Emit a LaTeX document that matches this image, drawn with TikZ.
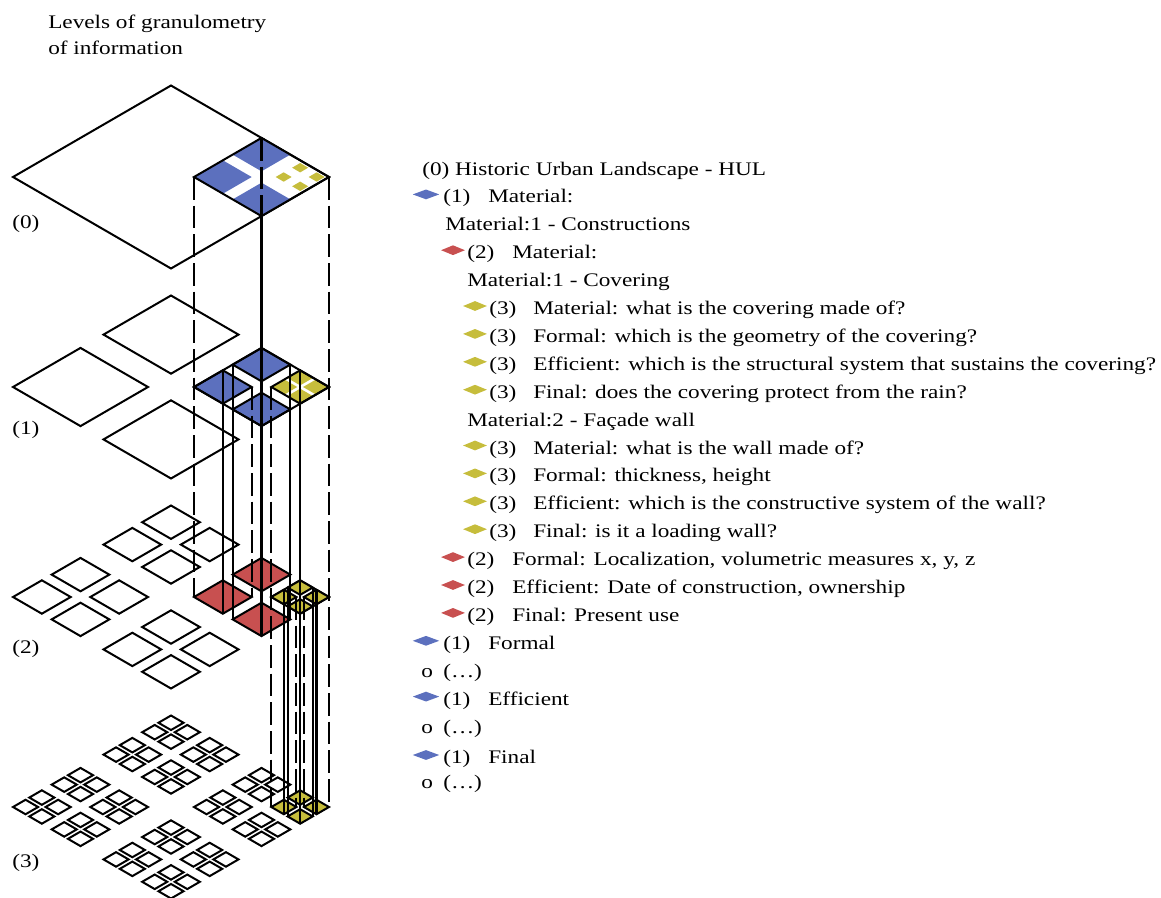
\documentclass[tikz,border=0pt]{standalone}
\usepackage{fontspec}
\setmainfont{Liberation Serif}[FakeStretch=1.21]
\usetikzlibrary{shapes.geometric}

\definecolor{hulblue}{RGB}{92,112,190}
\definecolor{hulred}{RGB}{200,80,80}
\definecolor{hulyellow}{RGB}{198,189,60}

% rhombus with centre (#2,#3), half width #4, half height #5
\newcommand\hulrhomb[5][]{%
  \pgfmathsetmacro\rhL{#2-#4}\pgfmathsetmacro\rhR{#2+#4}%
  \pgfmathsetmacro\rhT{#3-#5}\pgfmathsetmacro\rhB{#3+#5}%
  \path[#1] (\rhL,#3) -- (#2,\rhT) -- (\rhR,#3) -- (#2,\rhB) -- cycle;}

% list rows: name, baseline, text
\newcommand\rowone[3]{%
  \node[listdot,fill=hulblue,minimum width=20pt] (#1d) at (426,#2-8.5) {};
  \node[txt] (#1n) at (443,#2) {(1)};
  \node[txt] (#1t) at (488,#2) {#3};}
\newcommand\rowtwo[3]{%
  \node[listdot,fill=hulred] (#1d) at (453,#2-8.5) {};
  \node[txt] (#1n) at (467,#2) {(2)};
  \node[txt] (#1t) at (512,#2) {#3};}
\newcommand\rowthree[3]{%
  \node[listdot,fill=hulyellow] (#1d) at (475,#2-8.5) {};
  \node[txt] (#1n) at (489,#2) {(3)};
  \node[txt] (#1t) at (533,#2) {#3};}
\newcommand\rowetc[2]{%
  \node[txt] (#1o) at (421,#2) {o};
  \node[txt] (#1t) at (443,#2) {(\char"2026)};}

\begin{document}
\begin{tikzpicture}[x=0.75pt,y=-0.75pt,
  plate/.style={draw=black,line width=1.5pt,line join=miter},
  riser/.style={draw=black,line width=1.6pt},
  hiddenriser/.style={draw=black,line width=1.6pt,dash pattern=on 17pt off 4.5pt},
  txt/.style={anchor=base west,inner sep=0pt,font=\fontsize{14.4pt}{18pt}\selectfont},
  listdot/.style={shape=diamond,draw=none,inner sep=0pt,minimum width=18pt,minimum height=7.5pt}]

\path[use as bounding box] (0,0) rectangle (1161,897);

% ---------- headings ----------
\node[txt] (title1) at (48,28.5) {Levels of granulometry};
\node[txt] (title2) at (48,54.5) {of information};
\node[txt] (lab0) at (12,228) {(0)};
\node[txt] (lab1) at (12,434) {(1)};
\node[txt] (lab2) at (12,653) {(2)};
\node[txt] (lab3) at (12,867) {(3)};

% ---------- level 0 ----------
\hulrhomb[plate]{171}{177}{158}{91.5}
\foreach \k/\l in {0/-1,-1/0,0/1}{
  \pgfmathsetmacro\cx{261.5+\k*38.66}\pgfmathsetmacro\cy{177+\l*22.39}
  \hulrhomb[fill=hulblue]{\cx}{\cy}{28.835}{16.699}}
\foreach \m/\n in {0/-1,-1/0,0/1,1/0}{
  \pgfmathsetmacro\cx{300.16+\m*16.5}\pgfmathsetmacro\cy{177+\n*9.3}
  \hulrhomb[fill=hulyellow]{\cx}{\cy}{8}{4.7}}
\hulrhomb[plate]{261.5}{177}{67.4976}{39.0888}

% ---------- level 1 ----------
\foreach \i/\j in {0/-1,-1/0,0/1}{
  \pgfmathsetmacro\cx{171+\i*90.5}\pgfmathsetmacro\cy{387+\j*52.41}
  \hulrhomb[plate]{\cx}{\cy}{67.4976}{39.0888}}
\foreach \k/\l in {0/-1,-1/0,0/1}{
  \pgfmathsetmacro\cx{261.5+\k*38.66}\pgfmathsetmacro\cy{387+\l*22.39}
  \hulrhomb[plate,fill=hulblue]{\cx}{\cy}{28.835}{16.699}}
\foreach \m/\n in {0/-1,-1/0,0/1,1/0}{
  \pgfmathsetmacro\cx{300.16+\m*15.86}\pgfmathsetmacro\cy{387+\n*9.18}
  \hulrhomb[fill=hulyellow]{\cx}{\cy}{12.976}{7.515}}
\hulrhomb[plate]{300.16}{387}{28.835}{16.699}
\hulrhomb[plate]{261.5}{387}{67.4976}{39.0888}

% ---------- level 2 ----------
\foreach \i/\j in {0/-1,-1/0,0/1}{
  \foreach \k/\l in {0/-1,-1/0,0/1,1/0}{
    \pgfmathsetmacro\cx{171+\i*90.5+\k*38.66}\pgfmathsetmacro\cy{597+\j*52.41+\l*22.39}
    \hulrhomb[plate]{\cx}{\cy}{28.835}{16.699}}}
\foreach \k/\l in {0/-1,-1/0,0/1}{
  \pgfmathsetmacro\cx{261.5+\k*38.66}\pgfmathsetmacro\cy{597+\l*22.39}
  \hulrhomb[plate,fill=hulred]{\cx}{\cy}{28.835}{16.699}}
\hulrhomb[plate]{300.16}{597}{28.835}{16.699}
\foreach \m/\n in {0/-1,-1/0,0/1,1/0}{
  \pgfmathsetmacro\cx{300.16+\m*16.29}\pgfmathsetmacro\cy{597+\n*9.435}
  \hulrhomb[plate,fill=hulyellow]{\cx}{\cy}{12.543}{7.264}}

% ---------- level 3 ----------
\foreach \i/\j in {0/-1,-1/0,0/1}{
  \foreach \k/\l in {0/-1,-1/0,0/1,1/0}{
    \foreach \m/\n in {0/-1,-1/0,0/1,1/0}{
      \pgfmathsetmacro\cx{171+\i*90.5+\k*38.66+\m*16.29}
      \pgfmathsetmacro\cy{807+\j*52.41+\l*22.39+\n*9.435}
      \hulrhomb[plate]{\cx}{\cy}{12.543}{7.264}}}}
\foreach \k/\l in {0/-1,-1/0,0/1}{
  \foreach \m/\n in {0/-1,-1/0,0/1,1/0}{
    \pgfmathsetmacro\cx{261.5+\k*38.66+\m*16.29}
    \pgfmathsetmacro\cy{807+\l*22.39+\n*9.435}
    \hulrhomb[plate]{\cx}{\cy}{12.543}{7.264}}}
\foreach \m/\n in {0/-1,-1/0,0/1,1/0}{
  \pgfmathsetmacro\cx{300.16+\m*16.29}\pgfmathsetmacro\cy{807+\n*9.435}
  \hulrhomb[plate,fill=hulyellow]{\cx}{\cy}{12.543}{7.264}}

% ---------- vertical risers between levels ----------
\coordinate (aL0) at (194,177);      \coordinate (aL2) at (194,597);
\coordinate (aR0) at (329,177);      \coordinate (aR3) at (329,807);
\coordinate (aT0) at (261.5,137.91); \coordinate (aB0) at (261.5,216.09);
\coordinate (bcB2) at (261.5,636.09);
\coordinate (lcT1) at (222.84,370.30); \coordinate (lcB2) at (222.84,613.70);
\coordinate (tcL1) at (232.665,364.61); \coordinate (bcL2) at (232.665,619.39);
\coordinate (lcR1) at (251.675,387);    \coordinate (lcR2) at (251.675,597);
\coordinate (tcR1) at (290.335,364.61); \coordinate (bcR2) at (290.335,619.39);
\coordinate (rcL1) at (271.325,387);    \coordinate (rcL3) at (271.325,807);
\coordinate (rcT1) at (300.16,370.30);  \coordinate (rcB3) at (300.16,823.70);
\coordinate (lgT2) at (283.87,589.736); \coordinate (lgB3) at (283.87,814.264);
\coordinate (tgL2) at (287.617,587.565); \coordinate (bgL3) at (287.617,816.435);
\coordinate (lgR2) at (296.41,597);     \coordinate (lgR3) at (296.41,807);
\coordinate (rgL2) at (303.907,597);    \coordinate (rgL3) at (303.907,807);
\coordinate (tgR2) at (312.703,587.565); \coordinate (bgR3) at (312.703,816.435);
\coordinate (rgT2) at (316.45,589.736); \coordinate (rgB3) at (316.45,814.264);

\draw[hiddenriser] (aL0) -- (aL2);
\draw[hiddenriser] (aR0) -- (aR3);
\draw[hiddenriser] (aT0) -- (aB0);
\draw[riser] (aB0) -- (bcB2);
\draw[riser] (lcT1) -- (lcB2);
\draw[riser] (tcL1) -- (bcL2);
\draw[hiddenriser] (lcR1) -- (lcR2);
\draw[riser] (tcR1) -- (bcR2);
\draw[hiddenriser] (rcL1) -- (rcL3);
\draw[riser] (rcT1) -- (rcB3);
\draw[riser] (lgT2) -- (lgB3);
\draw[riser] (tgL2) -- (bgL3);
\draw[hiddenriser] (lgR2) -- (lgR3);
\draw[hiddenriser] (rgL2) -- (rgL3);
\draw[riser] (tgR2) -- (bgR3);
\draw[riser] (rgT2) -- (rgB3);

% ---------- hierarchy list ----------
\node[txt] (hul) at (422,175) {(0) Historic Urban Landscape - HUL};
\rowone{ma}{202.9}{Material:}
\node[txt] (mac) at (445,230.8) {Material:1 - Constructions};
\rowtwo{mb}{258.7}{Material:}
\node[txt] (mbc) at (467,286.6) {Material:1 - Covering};
\rowthree{ca}{314.5}{Material: what is the covering made of?}
\rowthree{cb}{342.4}{Formal: which is the geometry of the covering?}
\rowthree{cc}{370.3}{Efficient: which is the structural system that sustains the covering?}
\rowthree{cd}{398.2}{Final: does the covering protect from the rain?}
\node[txt] (mbw) at (467,426.1) {Material:2 - Façade wall};
\rowthree{wa}{454.0}{Material: what is the wall made of?}
\rowthree{wb}{481.9}{Formal: thickness, height}
\rowthree{wc}{509.8}{Efficient: which is the constructive system of the wall?}
\rowthree{wd}{537.7}{Final: is it a loading wall?}
\rowtwo{fa}{565.6}{Formal: Localization, volumetric measures x, y, z}
\rowtwo{fb}{593.5}{Efficient: Date of construction, ownership}
\rowtwo{fc}{621.4}{Final: Present use}
\rowone{ga}{649.3}{Formal}
\rowetc{gb}{677.2}
\rowone{ha}{705.1}{Efficient}
\rowetc{hb}{733.0}
\rowone{ia}{763.5}{Final}
\rowetc{ib}{788.8}
\end{tikzpicture}
\end{document}
